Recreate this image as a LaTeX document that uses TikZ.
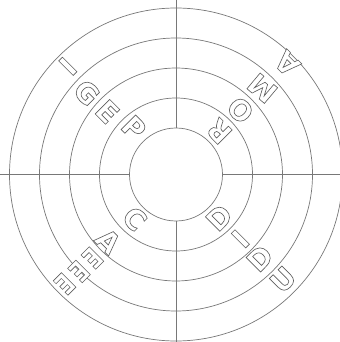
\documentclass[tikz,border=0pt]{standalone}
\usepackage{fontspec}
\setmainfont{DejaVu Sans}
\usepackage{xcolor}
\definecolor{ringcolor}{RGB}{120,120,120}
\definecolor{lettercolor}{RGB}{95,95,95}
\newcommand{\hollow}[1]{{\color{white}\special{pdf:literal direct 0.37 G 0.45 w 2 Tr}#1\special{pdf:literal direct 0 Tr}}}

\begin{document}
\begin{tikzpicture}[x=0.025cm, y=0.025cm]
  \tikzset{
    ring/.style={
      draw=ringcolor,
      line width=0.5pt
    },
    glyph/.style={
      inner sep=0pt,
      anchor=center,
      font=\fontsize{20}{20}\selectfont\bfseries
    }
  }
  \useasboundingbox (-176,-167.5) rectangle (164,174.5);

  % Rings
  \draw[ring] (0,0) circle (46.5);
  \draw[ring] (0,0) circle (76.5);
  \draw[ring] (0,0) circle (106.5);
  \draw[ring] (0,0) circle (136.5);
  \draw[ring] (0,0) circle (166.5);

  % Cross, stopping at the inner ring
  \coordinate (top) at (0,174.5);
  \coordinate (bottom) at (0,-167.5);
  \coordinate (left) at (-176,0);
  \coordinate (right) at (164,0);
  \coordinate (innerN) at (90:46.5);
  \coordinate (innerS) at (270:46.5);
  \coordinate (innerW) at (180:46.5);
  \coordinate (innerE) at (0:46.5);
  \draw[ring] (top) -- (innerN);
  \draw[ring] (innerS) -- (bottom);
  \draw[ring] (left) -- (innerW);
  \draw[ring] (innerE) -- (right);

  % Upper left word
  \node[glyph, rotate=45] (ulI) at (135:153) {\hollow{I}};
  \node[glyph, rotate=-45] (ulG) at (137.5:121) {\hollow{G}};
  \node[glyph, rotate=-45] (ulE) at (137.5:93) {\hollow{E}};
  \node[glyph, rotate=-45] (ulP) at (132:63) {\hollow{P}};

  % Upper right word
  \node[glyph, rotate=135] (urA) at (45:157) {\hollow{A}};
  \node[glyph, rotate=140] (urM) at (45:122) {\hollow{M}};
  \node[glyph, rotate=135] (urO) at (45:91) {\hollow{O}};
  \node[glyph, rotate=135] (urR) at (45:61) {\hollow{R}};

  % Lower left word
  \node[glyph, rotate=-45] (llC) at (227:60.5) {\hollow{C}};
  \node[glyph, rotate=-45] (llA) at (224.5:95) {\hollow{A}};
  \node[glyph, rotate=-135, xscale=0.8] (llE) at (225:118) {\hollow{E}};
  \node[glyph, rotate=-135, xscale=0.8] (llEE) at (225:137) {\hollow{E}};
  \node[glyph, rotate=-135, xscale=0.8] (llEEE) at (224.5:156) {\hollow{E}};

  % Lower right word
  \node[glyph, rotate=45] (lrD) at (-45:61) {\hollow{D}};
  \node[glyph, rotate=45] (lrI) at (-45:91) {\hollow{I}};
  \node[glyph, rotate=45] (lrDD) at (-45:118.5) {\hollow{D}};
  \node[glyph, rotate=45] (lrU) at (-44.5:150) {\hollow{U}};
\end{tikzpicture}
\end{document}
